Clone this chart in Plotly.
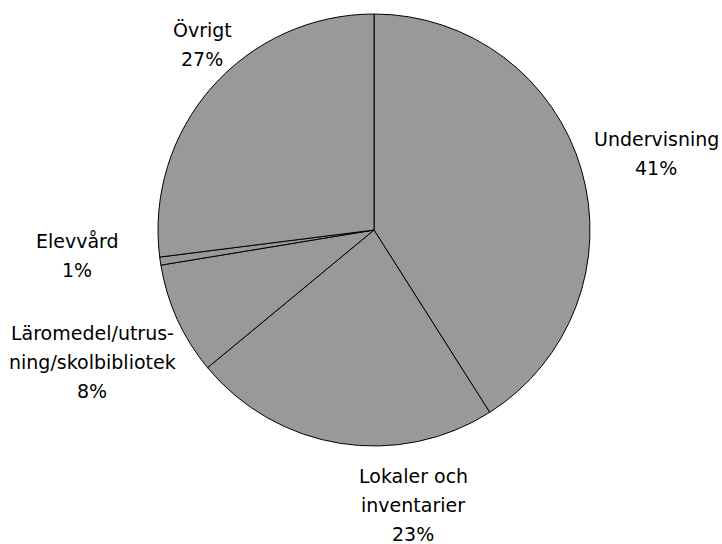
import plotly.graph_objects as go

categories = ["Undervisning", "Lokaler och inventarier", "Läromedel/utrus-ning/skolbibliotek", "Elevvård", "Övrigt"]
values = [41.0, 23.0, 8.4, 0.6, 27.0]
# label lines shown next to each slice (text) and pixel anchor of each line block
label_lines = [
    ["Undervisning", "41%"],
    ["Lokaler och", "inventarier", "23%"],
    ["Läromedel/utrus-", "ning/skolbibliotek", "8%"],
    ["Elevvård", "1%"],
    ["Övrigt", "27%"],
]
label_first_line_px = [(656, 139), (413, 476), (92, 333), (77, 241), (202, 30)]
line_step_px = 29

W, H = 722, 544
cx, cy, r = 374, 230, 216

fig = go.Figure(go.Pie(
    labels=categories,
    values=values,
    sort=False,
    direction="clockwise",
    rotation=0,
    textinfo="none",
    hoverinfo="none",
    marker=dict(colors=["#999999"] * len(values), line=dict(color="#000000", width=1)),
    domain=dict(x=[(cx - r) / W, (cx + r) / W], y=[1 - (cy + r) / H, 1 - (cy - r) / H]),
    showlegend=False,
))

annotations = []
for lines, (px, py) in zip(label_lines, label_first_line_px):
    for i, t in enumerate(lines):
        annotations.append(dict(
            text=t, x=px / W, y=1 - (py + i * line_step_px) / H,
            xref="paper", yref="paper", xanchor="center", yanchor="middle",
            showarrow=False, font=dict(family="DejaVu Sans, Arial, sans-serif", size=19, color="#000000"),
        ))

fig.update_layout(
    width=W, height=H,
    margin=dict(l=0, r=0, t=0, b=0),
    paper_bgcolor="#ffffff",
    plot_bgcolor="#ffffff",
    annotations=annotations,
)

fig.write_html(
    "out.html",
    config={"displayModeBar": False, "staticPlot": True},
    post_script="document.body.style.margin='0';document.body.style.overflow='hidden';",
)
